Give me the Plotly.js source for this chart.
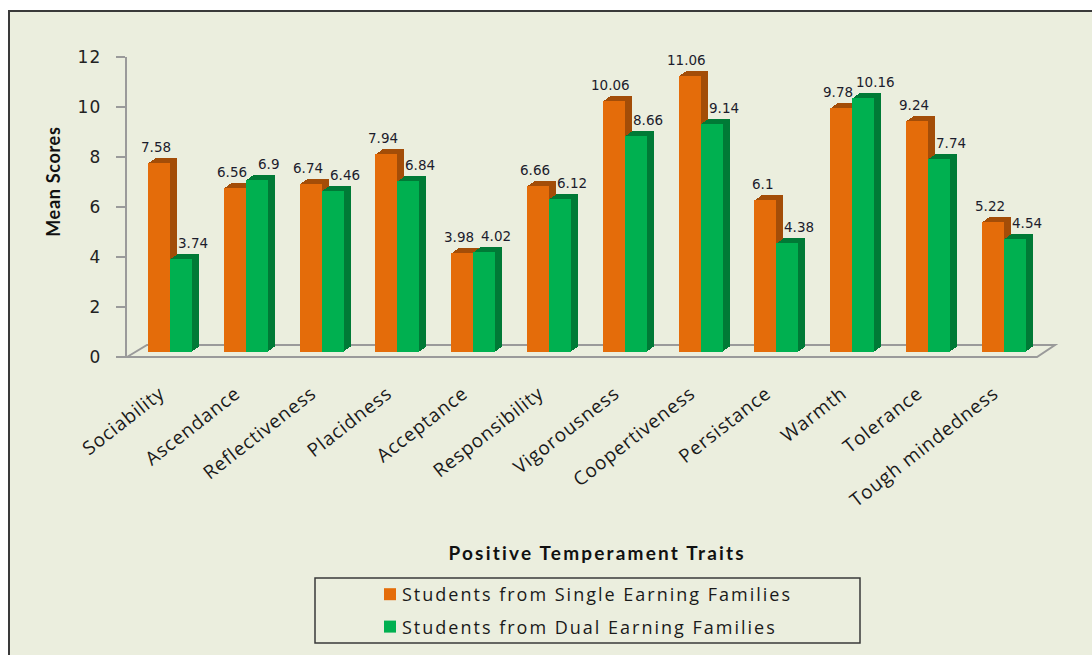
<!DOCTYPE html>
<html>
<head>
<meta charset="utf-8">
<script src="https://cdn.plot.ly/plotly-3.0.1.min.js"></script>
<style>
  html, body { margin: 0; padding: 0; background: #ffffff; overflow: hidden; }
  #frame {
    position: absolute; left: 8px; top: 10px;
    border-left: 2px solid #3a3a3a; border-top: 2px solid #3a3a3a;
    width: 1082px; height: 643px; background: #EBEEDE;
  }
  #chart { width: 1082px; height: 643px; }
  #chart g.legend g.scrollbox { clip-path: none !important; }
  #chart .legendtext { letter-spacing: 2px; transform: translateX(-8px); }
  #chart .xtick text { letter-spacing: 0.8px; }
  #chart .ytick text { letter-spacing: 1.2px; }
  #chart g.annotation[data-index="24"] text { letter-spacing: 0.7px; }
  #chart g.annotation[data-index="25"] text { letter-spacing: 2.2px; }
</style>
</head>
<body>
<div id="frame"><div id="chart"></div></div>
<script>
// ---- data ----
const categories = ['Sociability', 'Ascendance', 'Reflectiveness', 'Placidness', 'Acceptance',
  'Responsibility', 'Vigorousness', 'Coopertiveness', 'Persistance', 'Warmth', 'Tolerance',
  'Tough mindedness'];
const singleEarning = [7.58, 6.56, 6.74, 7.94, 3.98, 6.66, 10.06, 11.06, 6.1, 9.78, 9.24, 5.22];
const dualEarning = [3.74, 6.9, 6.46, 6.84, 4.02, 6.12, 8.66, 9.14, 4.38, 10.16, 7.74, 4.54];
const seriesNames = ['Students from Single Earning Families', 'Students from Dual Earning Families'];
const yTickVals = [0, 2, 4, 6, 8, 10, 12];
const yTitle = 'Mean Scores';
const xTitle = 'Positive Temperament Traits';

// ---- geometry (page pixels) ----
const OX = 10, OY = 12;              // frame content origin on page
const PL = 127, PR = 1055, PT = 57, PB = 357; // plot area on page
const W = 1082, H = 643;
const PW = PR - PL, PH = PB - PT;
const px = x => (x - PL) / PW;       // page x -> paper
const py = y => (PB - y) / PH;       // page y -> paper
const cx = x => (x - OX) / W;        // page x -> container
const cy = y => 1 - (y - OY) / H;    // page y -> container

const catStep = 75.8;                // px per category
const xr = [-(170 - PL) / catStep, (PR - 170) / catStep];
const barW = 22 / catStep;
const depthX = 7 / catStep;
const depthY = 0.2;                  // y units (5px)
const NSTEP = 5;

const colors = {
  single: { front: '#E46C0A', side: '#A34D08' },
  dual:   { front: '#00B050', side: '#007A36' }
};

// anchor trace so the main y axis (ticks 0..12) is drawn
const traces = [{
  type: 'scatter', x: [], y: [], xaxis: 'x', yaxis: 'y', showlegend: false, hoverinfo: 'skip'
}];
function addSeries(vals, name, col, offset, group) {
  for (let s = NSTEP; s >= 1; s--) {
    traces.push({
      type: 'bar', x: categories, y: vals, base: depthY * s / NSTEP,
      offset: offset + depthX * s / NSTEP, width: barW,
      marker: { color: col.side, line: { width: 0 } },
      xaxis: 'x', yaxis: 'y2', showlegend: false, hoverinfo: 'skip',
      legendgroup: group
    });
  }
  traces.push({
    type: 'bar', x: categories, y: vals, base: 0, name: name,
    offset: offset, width: barW,
    marker: { color: col.front, line: { width: 0 } },
    xaxis: 'x', yaxis: 'y2', legendgroup: group
  });
}
addSeries(singleEarning, seriesNames[0], colors.single, -barW, 'g1');
addSeries(dualEarning, seriesNames[1], colors.dual, 0, 'g2');

const labelFont = { family: 'DejaVu Sans', size: 13.5, color: '#1c1c2c' };
const annotations = [];
categories.forEach((c, i) => {
  annotations.push({ x: c, y: singleEarning[i], xref: 'x', yref: 'y2', text: String(singleEarning[i]),
    showarrow: false, xshift: -14, yshift: 16, font: labelFont });
  annotations.push({ x: c, y: dualEarning[i], xref: 'x', yref: 'y2', text: String(dualEarning[i]),
    showarrow: false, xshift: 23, yshift: 16, font: labelFont });
});
annotations.push({ xref: 'paper', yref: 'paper', x: px(53), y: py(182), xanchor: 'center', yanchor: 'middle',
  text: yTitle, textangle: -90, showarrow: false,
  font: { family: 'Lato', size: 18, color: '#111', weight: 'bold' } });
annotations.push({ xref: 'paper', yref: 'paper', x: px(597), y: py(552), xanchor: 'center', yanchor: 'middle',
  text: xTitle, showarrow: false,
  font: { family: 'Lato', size: 19, color: '#111', weight: 'bold' } });

const floorPath = `M ${px(127)},${py(357)} L ${px(147)},${py(345)} L ${px(1055)},${py(345)} L ${px(1037)},${py(357)} Z`;
const shapes = [
  { type: 'path', xref: 'paper', yref: 'paper', path: floorPath, layer: 'below',
    line: { color: '#9a9a9a', width: 2 }, fillcolor: 'rgba(0,0,0,0)' },
  { type: 'rect', xref: 'paper', yref: 'paper', x0: px(315), x1: px(860), y0: py(578), y1: py(643),
    line: { color: '#3a3a3a', width: 1.5 }, fillcolor: 'rgba(0,0,0,0)' }
];

const layout = {
  width: W, height: H,
  margin: { l: PL - OX, r: W - (PR - OX), t: PT - OY, b: H - (PB - OY), pad: 0, autoexpand: false },
  paper_bgcolor: '#EBEEDE', plot_bgcolor: 'rgba(0,0,0,0)',
  barmode: 'overlay', bargap: 0,
  showlegend: true,
  xaxis: {
    type: 'category', range: xr, showgrid: false, zeroline: false, showline: false, automargin: false,
    ticks: '', tickangle: -38, ticklabelstandoff: 21, ticklabelshift: -10,
    tickfont: { family: 'Open Sans', size: 19, color: '#1a1a1a' }, fixedrange: true
  },
  yaxis: {
    range: [0, 12], tickvals: yTickVals, showgrid: false, zeroline: false, automargin: false,
    showline: true, linecolor: '#9a9a9a', linewidth: 2,
    ticks: 'outside', ticklen: 9, tickcolor: '#9a9a9a', tickwidth: 2,
    ticklabelstandoff: 11,
    tickfont: { family: 'DejaVu Sans', size: 17, color: '#222' }, fixedrange: true
  },
  yaxis2: {
    overlaying: 'y', range: [-depthY, 12 - depthY], visible: false, fixedrange: true
  },
  legend: {
    xref: 'container', yref: 'container',
    x: cx(370), xanchor: 'left', y: cy(576), yanchor: 'top',
    bgcolor: 'rgba(0,0,0,0)', borderwidth: 0, traceorder: 'grouped', tracegroupgap: 6,
    font: { family: 'Open Sans', size: 18, color: '#1a1a1a' }
  },
  annotations: annotations,
  shapes: shapes
};

Plotly.newPlot('chart', traces, layout, { displayModeBar: false, staticPlot: true });
</script>
</body>
</html>
